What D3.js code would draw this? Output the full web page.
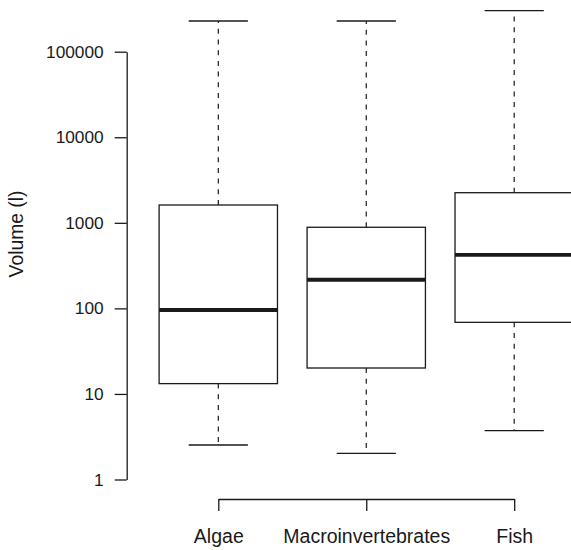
<!DOCTYPE html>
<html>
<head>
<meta charset="utf-8">
<script src="https://cdn.jsdelivr.net/npm/d3@7"></script>
<style>
  html, body { margin: 0; padding: 0; background: #fff; }
  svg { display: block; font-family: "Liberation Sans", Arial, Helvetica, sans-serif; }
</style>
</head>
<body>
<svg id="chart" width="571" height="550"></svg>
<script>
// Box-plot summaries of sampled volume (litres) per organism group
const categories   = ["Algae", "Macroinvertebrates", "Fish"];
const lowWhisker   = [2.53, 2.02, 3.72];
const q1           = [13.2, 20.1, 68.7];
const medians      = [95.7, 216, 421];
const q3           = [1615, 887, 2249];
const highWhisker  = [228500, 228500, 301500];
const yTicks       = [1, 10, 100, 1000, 10000, 100000];

const ink = "#1a1a1a";
const svg = d3.select("#chart");

const y = d3.scaleLog().domain([1, 100000]).range([479.5, 51.7]);
const x = d3.scalePoint().domain(categories).range([218.3, 514.2]);
const step = x.step();
const boxW = step * 0.8;
const capW = boxW / 2;

const boxes = categories.map((c, i) => ({
  cat: c, lo: lowWhisker[i], q1: q1[i], med: medians[i], q3: q3[i], hi: highWhisker[i]
}));

const g = svg.append("g");

// whiskers (dashed, from box edge outward)
g.selectAll("line.wUp").data(boxes).join("line")
  .attr("x1", d => x(d.cat)).attr("x2", d => x(d.cat))
  .attr("y1", d => y(d.q3)).attr("y2", d => y(d.hi))
  .attr("stroke", ink).attr("stroke-width", 1.2).attr("stroke-dasharray", "5,5.7");
g.selectAll("line.wDn").data(boxes).join("line")
  .attr("x1", d => x(d.cat)).attr("x2", d => x(d.cat))
  .attr("y1", d => y(d.q1)).attr("y2", d => y(d.lo))
  .attr("stroke", ink).attr("stroke-width", 1.2).attr("stroke-dasharray", "5,5.7");

// whisker caps
["hi", "lo"].forEach(k => {
  g.selectAll("line.cap-" + k).data(boxes).join("line")
    .attr("x1", d => x(d.cat) - capW / 2).attr("x2", d => x(d.cat) + capW / 2)
    .attr("y1", d => y(d[k])).attr("y2", d => y(d[k]))
    .attr("stroke", ink).attr("stroke-width", 1.3);
});

// boxes
g.selectAll("rect.box").data(boxes).join("rect")
  .attr("x", d => x(d.cat) - boxW / 2)
  .attr("width", boxW)
  .attr("y", d => y(d.q3))
  .attr("height", d => y(d.q1) - y(d.q3))
  .attr("fill", "#fff").attr("stroke", ink).attr("stroke-width", 1.3);

// medians
g.selectAll("line.med").data(boxes).join("line")
  .attr("x1", d => x(d.cat) - boxW / 2).attr("x2", d => x(d.cat) + boxW / 2)
  .attr("y1", d => y(d.med)).attr("y2", d => y(d.med))
  .attr("stroke", ink).attr("stroke-width", 3.8);

// y axis
const yAxis = svg.append("g")
  .attr("transform", "translate(126.7,0)")
  .call(d3.axisLeft(y).tickValues(yTicks).tickFormat(d3.format("d"))
    .tickSize(12).tickSizeOuter(0).tickPadding(11));
yAxis.select(".domain").attr("stroke", ink).attr("stroke-width", 1.3);
yAxis.selectAll(".tick line").attr("stroke", ink).attr("stroke-width", 1.3);
yAxis.selectAll(".tick text").attr("fill", ink)
  .style("font-size", "17.3px").style("font-family", "Liberation Sans, Arial, sans-serif");

// x axis
const xAxis = svg.append("g")
  .attr("transform", "translate(0,499)")
  .call(d3.axisBottom(x).tickSize(12).tickSizeOuter(0));
xAxis.select(".domain").attr("stroke", ink).attr("stroke-width", 1.3);
xAxis.selectAll(".tick line").attr("stroke", ink).attr("stroke-width", 1.3);
xAxis.selectAll(".tick text").attr("fill", ink)
  .attr("y", 44).attr("dy", 0)
  .style("font-size", "19.5px").style("font-family", "Liberation Sans, Arial, sans-serif");

// y axis title
svg.append("text")
  .attr("transform", "translate(23,234) rotate(-90)")
  .attr("text-anchor", "middle")
  .attr("fill", ink)
  .style("font-size", "19.3px")
  .text("Volume (l)");
</script>
</body>
</html>
